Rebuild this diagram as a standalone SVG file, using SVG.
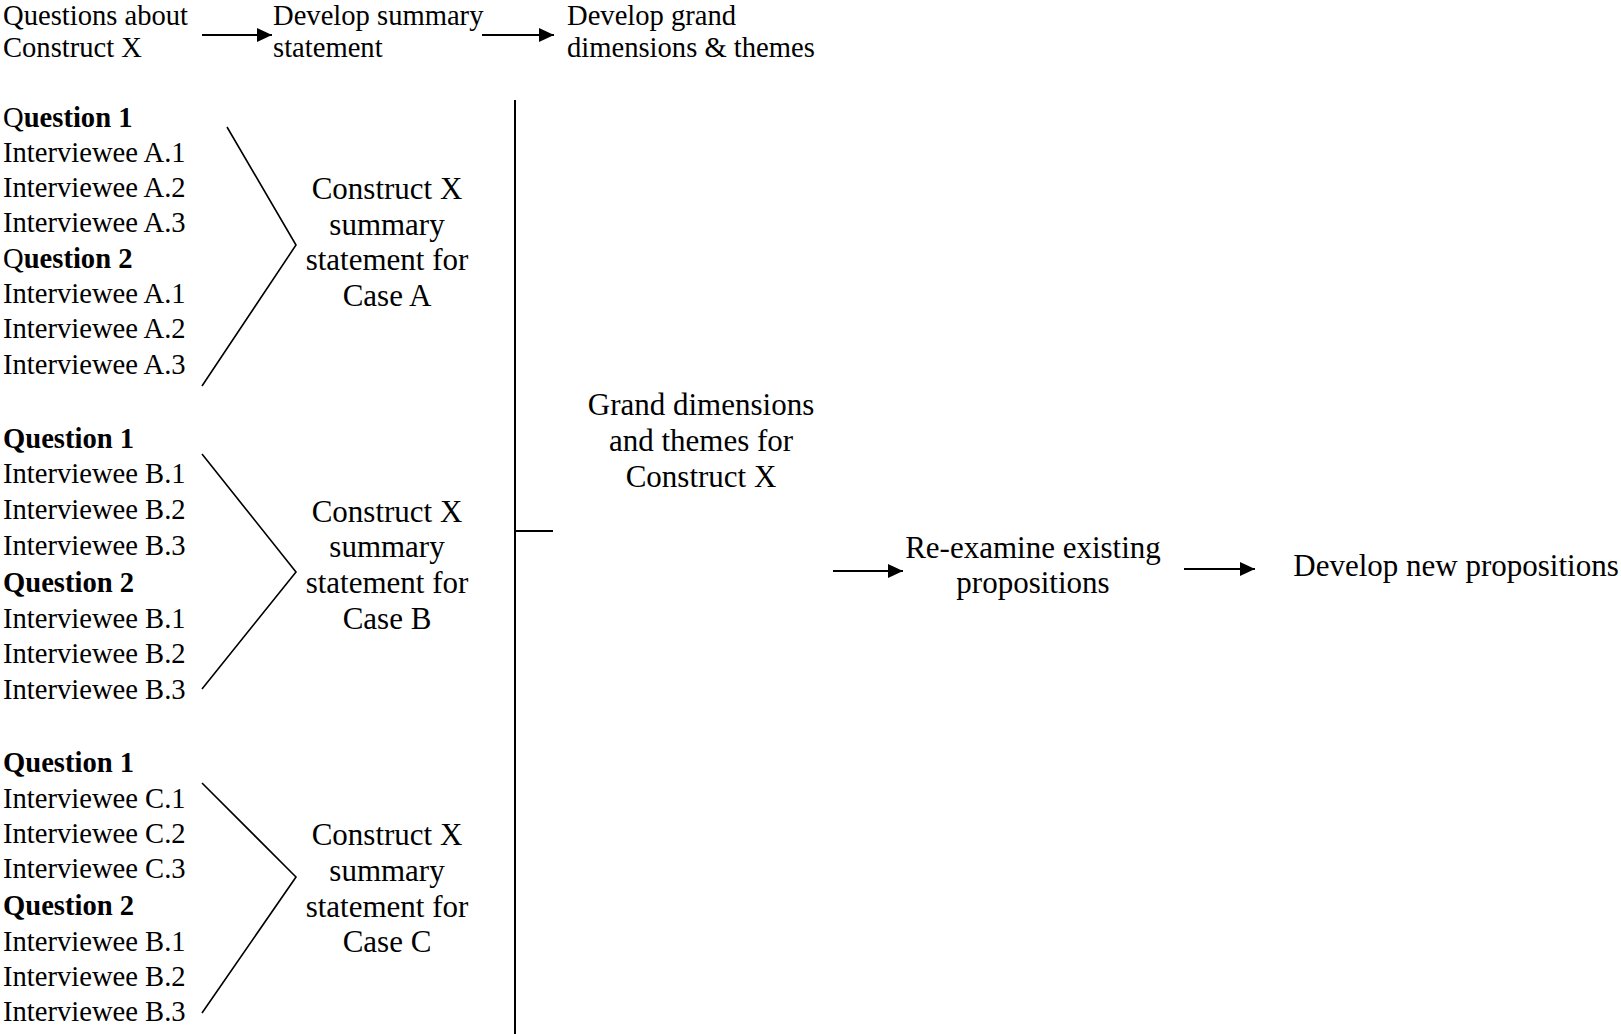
<svg xmlns="http://www.w3.org/2000/svg" width="1621" height="1034" viewBox="0 0 1621 1034">
<style>
text{font-family:"Liberation Serif","Times New Roman",serif;fill:#000}
.s{font-size:28.6px}
.m{font-size:31px;text-anchor:middle}
.b{font-weight:bold}
.r{font-weight:normal}
.ln{stroke:#000;stroke-width:1.6;fill:none}
.ar{stroke:#000;stroke-width:2;fill:none;marker-end:url(#ah)}
</style>
<defs>
<marker id="ah" markerUnits="userSpaceOnUse" markerWidth="16" markerHeight="14" refX="15" refY="7" orient="auto">
<path d="M0,0 L15,7 L0,14 Z" fill="#000"/>
</marker>
</defs>
<rect width="1621" height="1034" fill="#fff"/>

<g id="step1"><text class="s" x="3" y="25">Questions about</text><text class="s" x="3" y="57">Construct X</text></g>
<g id="step2"><text class="s" x="273" y="25">Develop summary</text><text class="s" x="273" y="57">statement</text></g>
<g id="step3"><text class="s" x="567" y="25">Develop grand</text><text class="s" x="567" y="57">dimensions &amp; themes</text></g>

<g id="listA">
<text class="s b" x="3" y="127"><tspan class="r">Q</tspan>uestion 1</text>
<text class="s" x="3" y="162">Interviewee A.1</text>
<text class="s" x="3" y="197">Interviewee A.2</text>
<text class="s" x="3" y="232">Interviewee A.3</text>
<text class="s b" x="3" y="268"><tspan class="r">Q</tspan>uestion 2</text>
<text class="s" x="3" y="303">Interviewee A.1</text>
<text class="s" x="3" y="338">Interviewee A.2</text>
<text class="s" x="3" y="374">Interviewee A.3</text>
</g>
<g id="caseA">
<text class="m" x="387" y="199">Construct X</text>
<text class="m" x="387" y="235">summary</text>
<text class="m" x="387" y="270">statement for</text>
<text class="m" x="387" y="306">Case A</text>
</g>

<g id="listB">
<text class="s b" x="3" y="448">Question 1</text>
<text class="s" x="3" y="483">Interviewee B.1</text>
<text class="s" x="3" y="519">Interviewee B.2</text>
<text class="s" x="3" y="555">Interviewee B.3</text>
<text class="s b" x="3" y="592">Question 2</text>
<text class="s" x="3" y="628">Interviewee B.1</text>
<text class="s" x="3" y="663">Interviewee B.2</text>
<text class="s" x="3" y="699">Interviewee B.3</text>
</g>
<g id="caseB">
<text class="m" x="387" y="522">Construct X</text>
<text class="m" x="387" y="557">summary</text>
<text class="m" x="387" y="593">statement for</text>
<text class="m" x="387" y="629">Case B</text>
</g>

<g id="listC">
<text class="s b" x="3" y="772">Question 1</text>
<text class="s" x="3" y="808">Interviewee C.1</text>
<text class="s" x="3" y="843">Interviewee C.2</text>
<text class="s" x="3" y="878">Interviewee C.3</text>
<text class="s b" x="3" y="915">Question 2</text>
<text class="s" x="3" y="951">Interviewee B.1</text>
<text class="s" x="3" y="986">Interviewee B.2</text>
<text class="s" x="3" y="1021">Interviewee B.3</text>
</g>
<g id="caseC">
<text class="m" x="387" y="845">Construct X</text>
<text class="m" x="387" y="881">summary</text>
<text class="m" x="387" y="917">statement for</text>
<text class="m" x="387" y="952">Case C</text>
</g>

<g id="grand">
<text class="m" x="701" y="415">Grand dimensions</text>
<text class="m" x="701" y="451">and themes for</text>
<text class="m" x="701" y="487">Construct X</text>
</g>

<g id="reexamine">
<text class="m" x="1033" y="558">Re-examine existing</text>
<text class="m" x="1033" y="593">propositions</text>
</g>
<g id="newprop"><text class="m" x="1456" y="576">Develop new propositions</text></g>

<g id="connectors">
<line class="ar" x1="202" y1="35" x2="272" y2="35"/>
<line class="ar" x1="482" y1="35" x2="554" y2="35"/>
<polyline class="ln" points="227,127 296,245 202,386"/>
<polyline class="ln" points="202,454 296,572 202,689"/>
<polyline class="ln" points="202,783 296,877 202,1013"/>
<line x1="515" y1="100" x2="515" y2="1034" stroke="#000" stroke-width="2"/>
<line x1="515" y1="531" x2="553" y2="531" stroke="#000" stroke-width="2"/>
<line class="ar" x1="833" y1="571" x2="903" y2="571"/>
<line class="ar" x1="1184" y1="569" x2="1255" y2="569"/>
</g>
</svg>
